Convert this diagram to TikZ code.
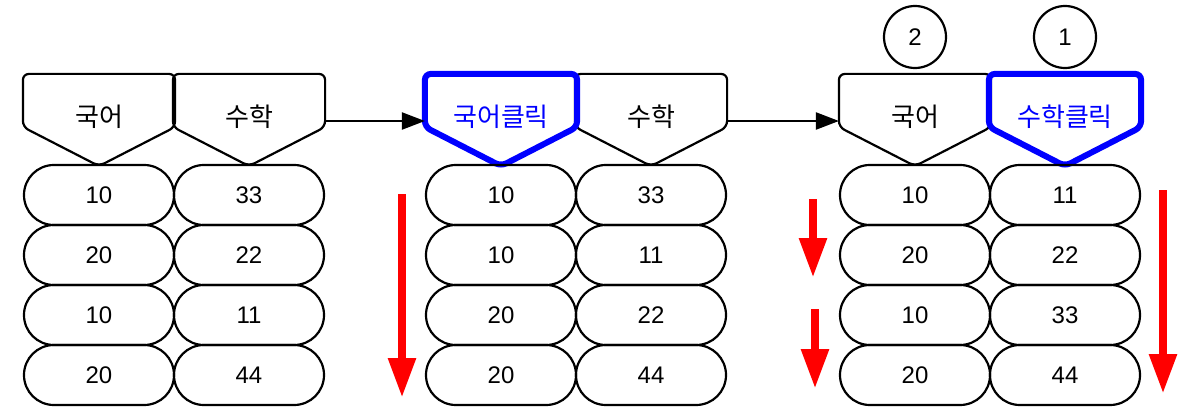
\documentclass[tikz,border=0pt]{standalone}
\usepackage{fontspec}
\setmainfont{Liberation Sans}
\newfontfamily\krfont{Noto Sans CJK KR}
\usetikzlibrary{arrows.meta,positioning,calc}

\begin{document}
\begin{tikzpicture}[x=1pt, y=-1pt, line width=2.2pt, >={Triangle[length=23pt, width=17pt]},
	every node/.style={font=\fontsize{24}{28}\selectfont},
	cell/.style={draw, rounded corners=29.9pt, minimum width=150pt, minimum height=60pt, inner sep=0pt},
	head/.style={minimum width=150pt, minimum height=84pt, inner sep=0pt, font=\fontsize{26}{30}\selectfont\krfont},
	clicked/.style={text=blue},
	ring/.style={draw, circle, minimum size=62pt, inner sep=0pt},
	down/.style={red, line width=8.5pt, -{Triangle[length=40pt, width=26pt]}}]
	\useasboundingbox (0,0) rectangle (1194,420);
	\node[head] (ha) at (99,117) {국어};
	\node[head] (hb) at (249,117) {수학};
	\node[head, clicked] (hc) at (501,117) {국어클릭};
	\node[head] (hd) at (651,117) {수학};
	\node[head] (he) at (915,117) {국어};
	\node[head, clicked] (hf) at (1065,117) {수학클릭};
	\foreach \h in {ha, hb, hd, he}
		\draw[rounded corners=6pt] ($(\h.south)+(0,6)$) -- ($(\h.west)+(0,10)$) -- (\h.north west) -- (\h.north east) -- ($(\h.east)+(0,10)$) -- cycle;
	\foreach \h in {hc, hf}
		\draw[rounded corners=6pt, blue, line width=6pt] ($(\h.south)+(0,6)$) -- ($(\h.west)+(0,10)$) -- (\h.north west) -- (\h.north east) -- ($(\h.east)+(0,10)$) -- cycle;
	\foreach \col/\cx/\vals in {a/99/{10,20,10,20}, b/249/{33,22,11,44}, c/501/{10,10,20,20}, d/651/{33,11,22,44}, e/915/{10,20,10,20}, f/1065/{11,22,33,44}}
		\foreach \v [count=\r] in \vals
			\node[cell] (\col\r) at (\cx,135+60*\r) {\v};
	\draw[->] ($(hb.east)+(0,4)$) -- ($(hc.west)+(0,4)$);
	\draw[->] ($(hd.east)+(0,4)$) -- ($(he.west)+(0,4)$);
	\node[ring] (n2) at (915,37) {2};
	\node[ring] (n1) at (1065,37) {1};
	\draw[down] (402,194) -- (402,398);
	\draw[down] (813,199) -- (813,278);
	\draw[down] (815,309) -- (815,389);
	\draw[down] (1163,190) -- (1163,394);
\end{tikzpicture}
\end{document}
